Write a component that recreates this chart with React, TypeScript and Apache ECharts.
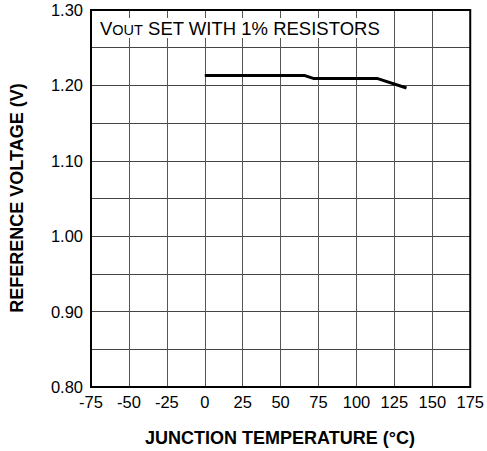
import React, { useEffect, useRef } from "react";
import * as echarts from "echarts";

const temperatures = [0, 66, 72, 114, 133];
const voltages = [1.213, 1.213, 1.209, 1.209, 1.1965];
const xTicks = { min: -75, max: 175, interval: 25 };
const yTicks = { min: 0.8, max: 1.3, interval: 0.05 };
const xTitle = "JUNCTION TEMPERATURE (°C)";
const yTitle = "REFERENCE VOLTAGE (V)";

const FONT = "'Liberation Sans', Arial, Helvetica, sans-serif";

export default function App() {
  const ref = useRef<HTMLDivElement>(null);
  useEffect(() => {
    if (!ref.current) return;
    const chart = echarts.init(ref.current, null, { renderer: "svg" });
    const data = temperatures.map((t, i) => [t, voltages[i]]);
    chart.setOption({
      animation: false,
      backgroundColor: "#fff",
      grid: {
        left: 91,
        top: 10,
        right: 11,
        bottom: 64,
        show: true,
        borderColor: "#000",
        borderWidth: 2,
        backgroundColor: "transparent",
        z: 10,
      },
      xAxis: {
        type: "value",
        min: xTicks.min,
        max: xTicks.max,
        interval: xTicks.interval,
        axisLine: { show: false },
        axisTick: { show: false },
        axisLabel: { color: "#000", fontSize: 16.5, fontFamily: FONT, margin: 6 },
        splitLine: { show: true, lineStyle: { color: "#555", width: 1 } },
      },
      yAxis: {
        type: "value",
        min: yTicks.min,
        max: yTicks.max,
        interval: yTicks.interval,
        axisLine: { show: false },
        axisTick: { show: false },
        axisLabel: {
          color: "#000",
          fontSize: 16.5,
          fontFamily: FONT,
          margin: 8,
          formatter: (v: number) =>
            Math.round(v * 100) % 10 === 0 ? v.toFixed(2) : "",
        },
        splitLine: { show: true, lineStyle: { color: "#444", width: 1 } },
      },
      graphic: [
        {
          type: "rect",
          shape: { x: 92, y: 18, width: 293, height: 20 },
          style: { fill: "#fff" },
          z: 5,
        },
        {
          type: "text",
          x: 100,
          y: 28,
          z: 6,
          style: {
            text: "{big|V}{small|OUT}{big| SET WITH 1% RESISTORS}",
            verticalAlign: "middle",
            align: "left",
            rich: {
              big: { fontSize: 18.5, fontFamily: FONT, fill: "#000", verticalAlign: "bottom" },
              small: { fontSize: 14.5, fontFamily: FONT, fill: "#000", verticalAlign: "bottom" },
            },
          },
        },
        {
          type: "text",
          x: 280,
          y: 438,
          style: {
            text: xTitle,
            align: "center",
            verticalAlign: "middle",
            fontSize: 18,
            fontWeight: "bold",
            fontFamily: FONT,
            fill: "#000",
          },
        },
        {
          type: "text",
          x: 17,
          y: 198,
          rotation: Math.PI / 2,
          style: {
            text: yTitle,
            align: "center",
            verticalAlign: "middle",
            fontSize: 18,
            fontWeight: "bold",
            fontFamily: FONT,
            fill: "#000",
          },
        },
      ],
      series: [
        {
          type: "line",
          data,
          showSymbol: false,
          symbol: "none",
          lineStyle: { color: "#000", width: 3 },
          z: 8,
        },
      ],
    });
    return () => chart.dispose();
  }, []);
  return <div ref={ref} style={{ width: 487, height: 451, position: "absolute", left: 0, top: 0 }} />;
}
